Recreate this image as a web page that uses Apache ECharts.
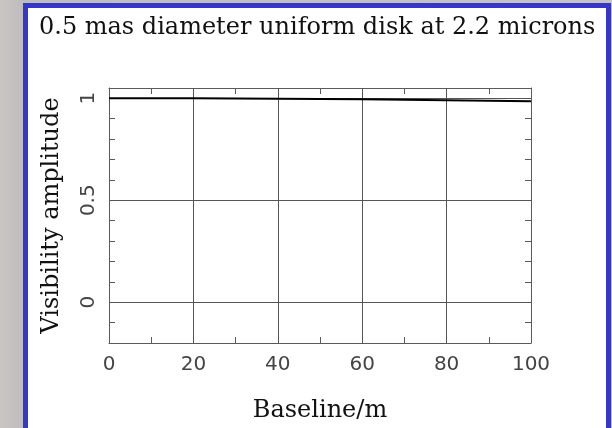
<!DOCTYPE html>
<html><head><meta charset="utf-8">
<script src="https://cdn.jsdelivr.net/npm/echarts@6/dist/echarts.min.js"></script>
<style>
html,body{margin:0;padding:0;width:612px;height:428px;overflow:hidden;background:linear-gradient(90deg,#c9c6c2 0%,#bdbdbd 4%,#c4c4c4 100%);}
#panel{position:absolute;left:23px;top:3px;width:578px;height:440px;background:#fff;border:5px solid #3636c8;}
#c{position:absolute;left:0;top:0;width:612px;height:428px;}
</style></head>
<body><div id="panel"></div><div id="c"></div>
<script>
const titleText = "0.5 mas diameter uniform disk at 2.2 microns";
const xName = "Baseline/m";
const yName = "Visibility amplitude";
const baseline = [0, 10, 20, 30, 40, 50, 60, 70, 80, 90, 100];
const visibility = [1.000, 0.9999, 0.9994, 0.9987, 0.9976, 0.9963, 0.9946, 0.9927, 0.9904, 0.9879, 0.985];
const yLabelValues = [0, 0.5, 1];
const xGridValues = [20, 40, 60, 80];

const chart = echarts.init(document.getElementById('c'), null, {renderer:'canvas'});
const axisCol = '#5a5a5a';
const serif = 'DejaVu Serif';
const sans = 'DejaVu Sans';
const commonX = {
  type:'value', min:0, max:100, interval:20,
  axisLine:{show:true, onZero:false, lineStyle:{color:axisCol, width:1}},
  axisTick:{show:true, inside:true, length:6, lineStyle:{color:axisCol}},
  minorTick:{show:true, splitNumber:2, length:6, lineStyle:{color:axisCol}},
  splitLine:{show:false}
};
const commonY = {
  type:'value', min:-0.2, max:1.05, interval:0.1,
  axisLine:{show:true, onZero:false, lineStyle:{color:axisCol, width:1}},
  axisTick:{show:true, inside:true, length:6, lineStyle:{color:axisCol}},
  splitLine:{show:false}
};
chart.setOption({
  animation:false,
  backgroundColor:'transparent',
  title:{text:titleText, left:34, top:11, textStyle:{fontFamily:serif, fontWeight:'normal', fontSize:24, color:'#111'}},
  grid:{left:109, right:81, top:88, bottom:79, containLabel:false},
  xAxis:[
    Object.assign({}, commonX, {position:'bottom',
      name:xName, nameLocation:'middle', nameGap:56,
      nameTextStyle:{fontFamily:serif, fontSize:24, color:'#111'},
      axisLabel:{show:true, margin:12, fontFamily:sans, fontSize:20, color:'#444'}}),
    Object.assign({}, commonX, {position:'top', axisLabel:{show:false}})
  ],
  yAxis:[
    Object.assign({}, commonY, {position:'left',
      name:yName, nameLocation:'middle', nameGap:45, nameRotate:90,
      nameTextStyle:{fontFamily:serif, fontSize:24, color:'#111'},
      axisLabel:{show:true, rotate:90, margin:10, fontFamily:sans, fontSize:20, color:'#444',
        formatter:function(v){ for (const t of yLabelValues){ if (Math.abs(v-t)<1e-6) return String(t);} return ''; }}}),
    Object.assign({}, commonY, {position:'right', axisLabel:{show:false}})
  ],
  series:[{
    type:'line', xAxisIndex:0, yAxisIndex:0,
    data: baseline.map((b,i)=>[b, visibility[i]]),
    showSymbol:false, symbol:'none',
    lineStyle:{color:'#000', width:2},
    z:5,
    markLine:{silent:true, symbol:['none','none'], label:{show:false},
      lineStyle:{color:'#555', width:1, type:'solid'},
      data: yLabelValues.map(v=>({yAxis:v})).concat(xGridValues.map(v=>({xAxis:v})))}
  }]
});
</script></body></html>
